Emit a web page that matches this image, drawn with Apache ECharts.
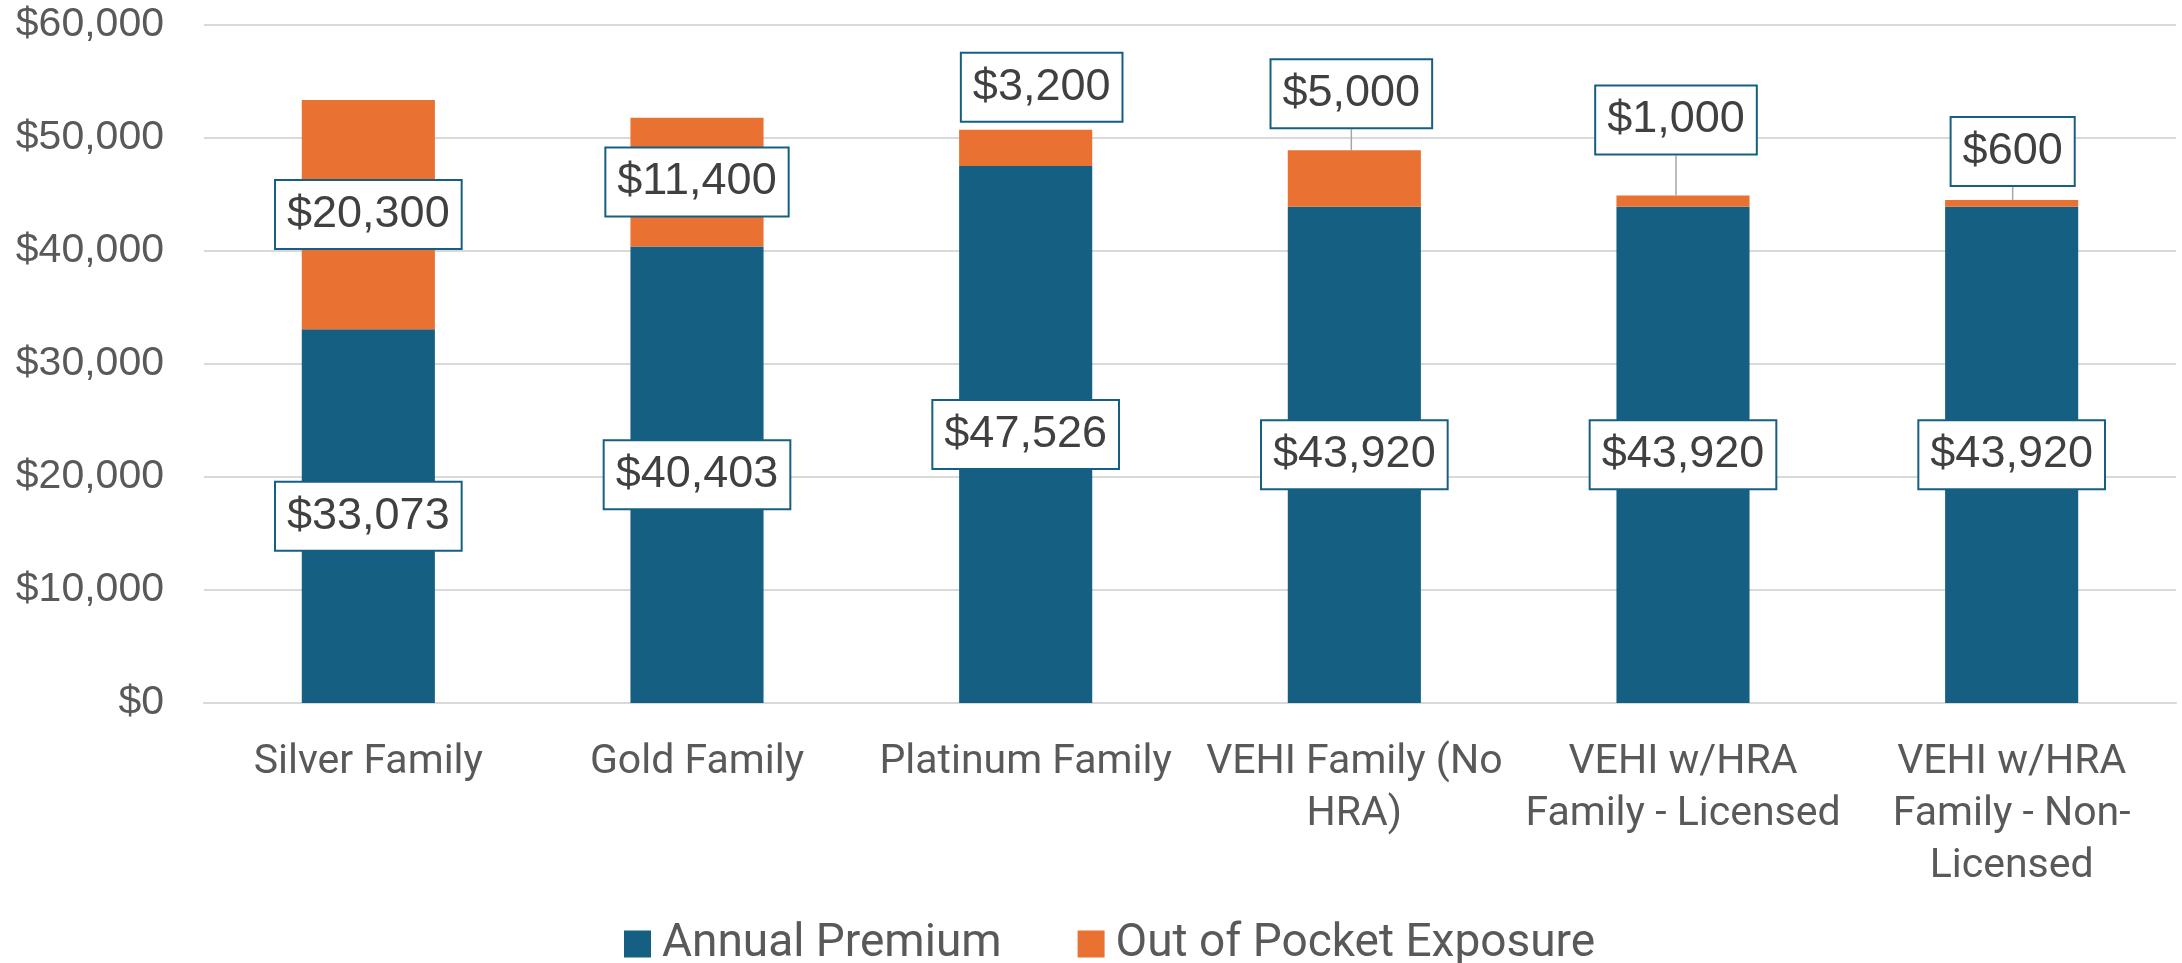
<!DOCTYPE html>
<html>
<head>
<meta charset="utf-8">
<script src="https://cdn.jsdelivr.net/npm/echarts@6/dist/echarts.min.js"></script>
<style>
  html, body { margin: 0; padding: 0; background: #ffffff; }
  #chart { width: 2182px; height: 963px; }
</style>
</head>
<body>
<div id="chart"></div>
<script>
// ---- data ----
const categories = [
  'Silver Family',
  'Gold Family',
  'Platinum Family',
  'VEHI Family (No\nHRA)',
  'VEHI w/HRA\nFamily - Licensed',
  'VEHI w/HRA\nFamily - Non-\nLicensed'
];
const annualPremium = [33073, 40403, 47526, 43920, 43920, 43920];
const outOfPocket = [20300, 11400, 3200, 5000, 1000, 600];
const yTicks = { min: 0, max: 60000, interval: 10000 };

// ---- label placement (style only) for Out of Pocket labels ----
// moved: label lifted above the bar top by `gap` px, shifted by dx px
const oopLabelPlacement = [
  { moved: false, gap: 0, dx: 0, line: false },
  { moved: false, gap: 0, dx: 0, line: false },
  { moved: true, gap: 7, dx: 16, line: false },
  { moved: true, gap: 21, dx: -3, line: true },
  { moved: true, gap: 40, dx: -7, line: true },
  { moved: true, gap: 13, dx: 1, line: true }
];

const fmt = v => '$' + Number(v).toLocaleString('en-US');

const boxLabel = {
  show: true,
  position: 'inside',
  formatter: p => fmt(p.value),
  color: '#404040',
  fontFamily: 'Liberation Sans, Arial, sans-serif',
  fontSize: 45,
  lineHeight: 45,
  backgroundColor: '#ffffff',
  borderColor: '#156082',
  borderWidth: 2,
  padding: [11, 11, 11, 11]
};

const chart = echarts.init(document.getElementById('chart'), null, { renderer: 'canvas' });

const option = {
  animation: false,
  backgroundColor: '#ffffff',
  grid: { left: 204, right: 6, top: 25, bottom: 260, containLabel: false },
  legend: {
    data: ['Annual Premium', 'Out of Pocket Exposure'],
    left: 619,
    top: 916,
    itemWidth: 27,
    itemHeight: 27,
    itemGap: 76,
    icon: 'rect',
    textStyle: {
      color: '#595959',
      fontFamily: 'Roboto, Liberation Sans, sans-serif',
      fontSize: 46,
      padding: [0, 0, 0, 6]
    }
  },
  xAxis: {
    type: 'category',
    data: categories,
    axisLine: { show: true, lineStyle: { color: '#D9D9D9', width: 2 } },
    axisTick: { show: false },
    axisLabel: {
      color: '#595959',
      fontFamily: 'Roboto, Liberation Sans, sans-serif',
      fontSize: 41,
      lineHeight: 52,
      margin: 34,
      interval: 0
    }
  },
  yAxis: {
    type: 'value',
    min: yTicks.min,
    max: yTicks.max,
    interval: yTicks.interval,
    axisLine: { show: false },
    axisTick: { show: false },
    splitLine: { lineStyle: { color: '#D9D9D9', width: 2 } },
    axisLabel: {
      color: '#595959',
      fontFamily: 'Liberation Sans, Arial, sans-serif',
      fontSize: 41,
      margin: 40,
      formatter: v => fmt(v)
    }
  },
  series: [
    {
      name: 'Annual Premium',
      type: 'bar',
      stack: 'total',
      barWidth: '40.5%',
      itemStyle: { color: '#156082' },
      label: Object.assign({}, boxLabel),
      data: annualPremium
    },
    {
      name: 'Out of Pocket Exposure',
      type: 'bar',
      stack: 'total',
      barWidth: '40.5%',
      itemStyle: { color: '#E97132' },
      label: Object.assign({}, boxLabel),
      labelLine: { show: true, lineStyle: { color: '#A6A6A6', width: 1.5 } },
      labelLayout: function (params) {
        const pl = oopLabelPlacement[params.dataIndex];
        if (!pl || !pl.moved) return {};
        const targetBottom = params.rect.y - pl.gap;
        const dy = targetBottom - (params.labelRect.y + params.labelRect.height);
        return { dx: pl.dx, dy: dy };
      },
      data: outOfPocket.map((v, i) => ({
        value: v,
        labelLine: { show: oopLabelPlacement[i].line }
      }))
    }
  ]
};

chart.setOption(option);
</script>
</body>
</html>
